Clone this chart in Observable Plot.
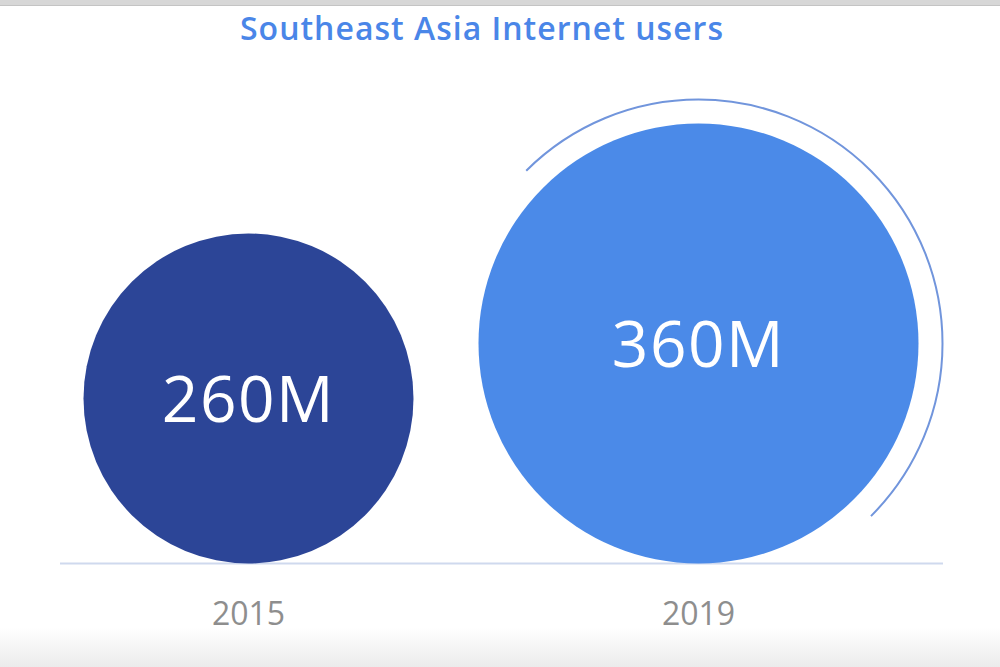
<!DOCTYPE html>
<html>
<head>
<meta charset="utf-8">
<script src="https://cdn.jsdelivr.net/npm/d3@7"></script>
<script src="https://cdn.jsdelivr.net/npm/@observablehq/plot@0.6"></script>
<style>
  html, body { margin: 0; padding: 0; background: #ffffff; }
  body { width: 1000px; height: 667px; position: relative; overflow: hidden; }
  .topbar { position: absolute; left: 0; top: 0; width: 1000px; height: 5px; background: #d7d7d7; border-bottom: 1px solid #c4c4c4; }
  .bottomfade { position: absolute; left: 0; top: 627px; width: 1000px; height: 40px; background: linear-gradient(#ffffff, #ebebeb); }
  #title { height: 60px; line-height: 56px; text-align: center; padding-right: 36px; box-sizing: border-box;
           font-family: "Open Sans", sans-serif; font-weight: 600; font-size: 32px; color: #4a86e8; letter-spacing: 1px; }
  #chart { position: relative; }
</style>
</head>
<body>
<div class="topbar"></div>
<div class="bottomfade"></div>
<div id="title"></div>
<div id="chart"></div>
<script>
// ---- data ----
const chartTitle = "Southeast Asia Internet users";
const years = ["2015", "2019"];
const users = [260, 360];              // millions
const valueLabels = ["260M", "360M"];
const fills = ["#2c4597", "#4b8ae8"];

document.getElementById("title").textContent = chartTitle;

const data = years.map((year, i) => ({year, users: users[i], label: valueLabels[i], fill: fills[i]}));

// radius scale shared by circles and their vertical placement (circles rest on the baseline)
const rOpts = {type: "linear", domain: [260, 360], range: [165, 220]};
const rScale = Plot.scale({r: rOpts});
const centerY = d => rScale.apply(d.users);

const latest = data.filter(d => d.year === years[years.length - 1]);
const ringR = rScale.apply(users[users.length - 1]) + 24;
const halfLen = Math.PI * ringR;

const plot = Plot.plot({
  width: 1000,
  height: 607,
  marginTop: 0,
  marginLeft: 60,
  marginRight: 57,
  marginBottom: 104,
  style: {fontSize: "32px", fontFamily: "'Open Sans', sans-serif", color: "#8e8e8e", background: "transparent", overflow: "visible"},
  x: {type: "point", domain: years, range: [247.5, 698], padding: 0, tickSize: 0, tickPadding: 39, label: null},
  y: {domain: [0, 503], range: [503, 0], axis: null},
  r: rOpts,
  color: {type: "identity"},
  marks: [
    Plot.ruleY([0], {stroke: "#cfd9ee", strokeWidth: 2}),
    Plot.dot(data, {x: "year", y: centerY, r: "users", fill: "fill", stroke: null}),
    Plot.dot(latest, {x: "year", y: centerY, r: ringR, fill: "none", stroke: "#7195dc", strokeWidth: 2,
                      strokeDasharray: `${halfLen} ${halfLen}`, strokeDashoffset: 0.75 * halfLen}),
    Plot.text(data, {x: "year", y: centerY, text: "label", fill: "white", fontSize: 64, dy: 3,
                     fontFamily: "'Open Sans', sans-serif"})
  ]
});
plot.querySelectorAll("text").forEach(t => { if (/M$/.test(t.textContent)) t.style.letterSpacing = "1.5px"; });
document.getElementById("chart").appendChild(plot);
</script>
</body>
</html>
